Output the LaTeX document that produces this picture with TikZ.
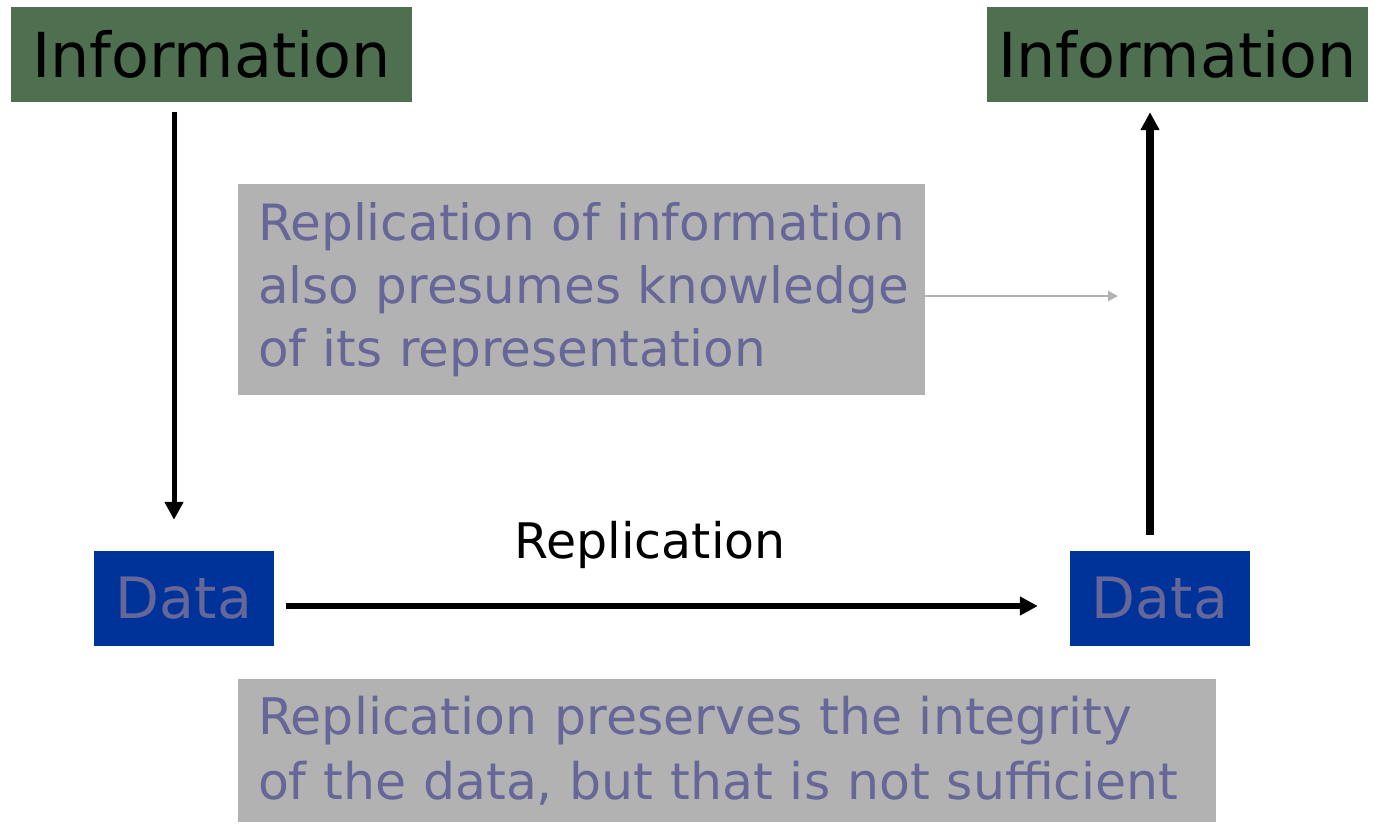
\documentclass[tikz,border=0pt]{standalone}
\usepackage{fontspec}
\setmainfont{DejaVu Sans}
\usetikzlibrary{arrows.meta}
\definecolor{infogreen}{HTML}{4E7050}
\definecolor{datablue}{HTML}{003399}
\definecolor{textpurple}{HTML}{666699}
\definecolor{notegray}{HTML}{B2B2B2}
\tikzset{
  infobox/.style={fill=infogreen, minimum width=401pt, minimum height=95pt, inner sep=0pt, text=black, font=\fontsize{62}{70}\selectfont},
  databox/.style={fill=datablue, minimum width=180pt, minimum height=95pt, inner sep=0pt, text=textpurple, font=\fontsize{57}{66}\selectfont},
  notebox/.style={fill=notegray, inner sep=0pt, text=textpurple, align=left, font=\fontsize{50}{63}\selectfont},
  bigarrow/.style={draw=black, -{Triangle[length=18pt,width=18pt]}},
}
\begin{document}
\begin{tikzpicture}[x=1pt,y=-1pt]
\useasboundingbox (0,0) rectangle (1375,823);
\node[infobox] (i1) at (211.5,54.5) {Information};
\node[infobox, minimum width=381pt] (i2) at (1177.5,54.5) {Information};
\node[databox] (d1) at (184,598.5) {Data};
\node[databox] (d2) at (1160,598.5) {Data};
\node[notebox, minimum width=687pt, minimum height=211pt, text width=647pt] (g1) at (581.5,289.5) {\mbox{Replication of information}\\\mbox{also presumes knowledge}\\\mbox{of its representation}};
\node[notebox, minimum width=978pt, minimum height=143pt, text width=938pt, font=\fontsize{50.5}{65}\selectfont] (g2) at (727,750.5) {\mbox{Replication preserves the integrity}\\\mbox{of the data, but that is not sufficient}};
\node[font=\fontsize{49}{56}\selectfont, text=black] (rep) at (650,545) {Replication};
\coordinate (gtip) at (1118,296);
\draw[bigarrow, line width=5pt, shorten <=10pt, shorten >=31pt] (i1.south -| 174,0) -- (d1.north -| 174,0);
\draw[bigarrow, line width=6pt, shorten <=12pt, shorten >=32pt] ([yshift=-7.5pt]d1.east) -- ([yshift=-7.5pt]d2.west);
\draw[bigarrow, line width=8pt, shorten <=16pt, shorten >=10pt] (d2.north -| 1150,0) -- (i2.south -| 1150,0);
\draw[draw=notegray, line width=2pt, -{Triangle[length=10pt,width=10pt]}] (g1.east |- gtip) -- (gtip);
\end{tikzpicture}
\end{document}
